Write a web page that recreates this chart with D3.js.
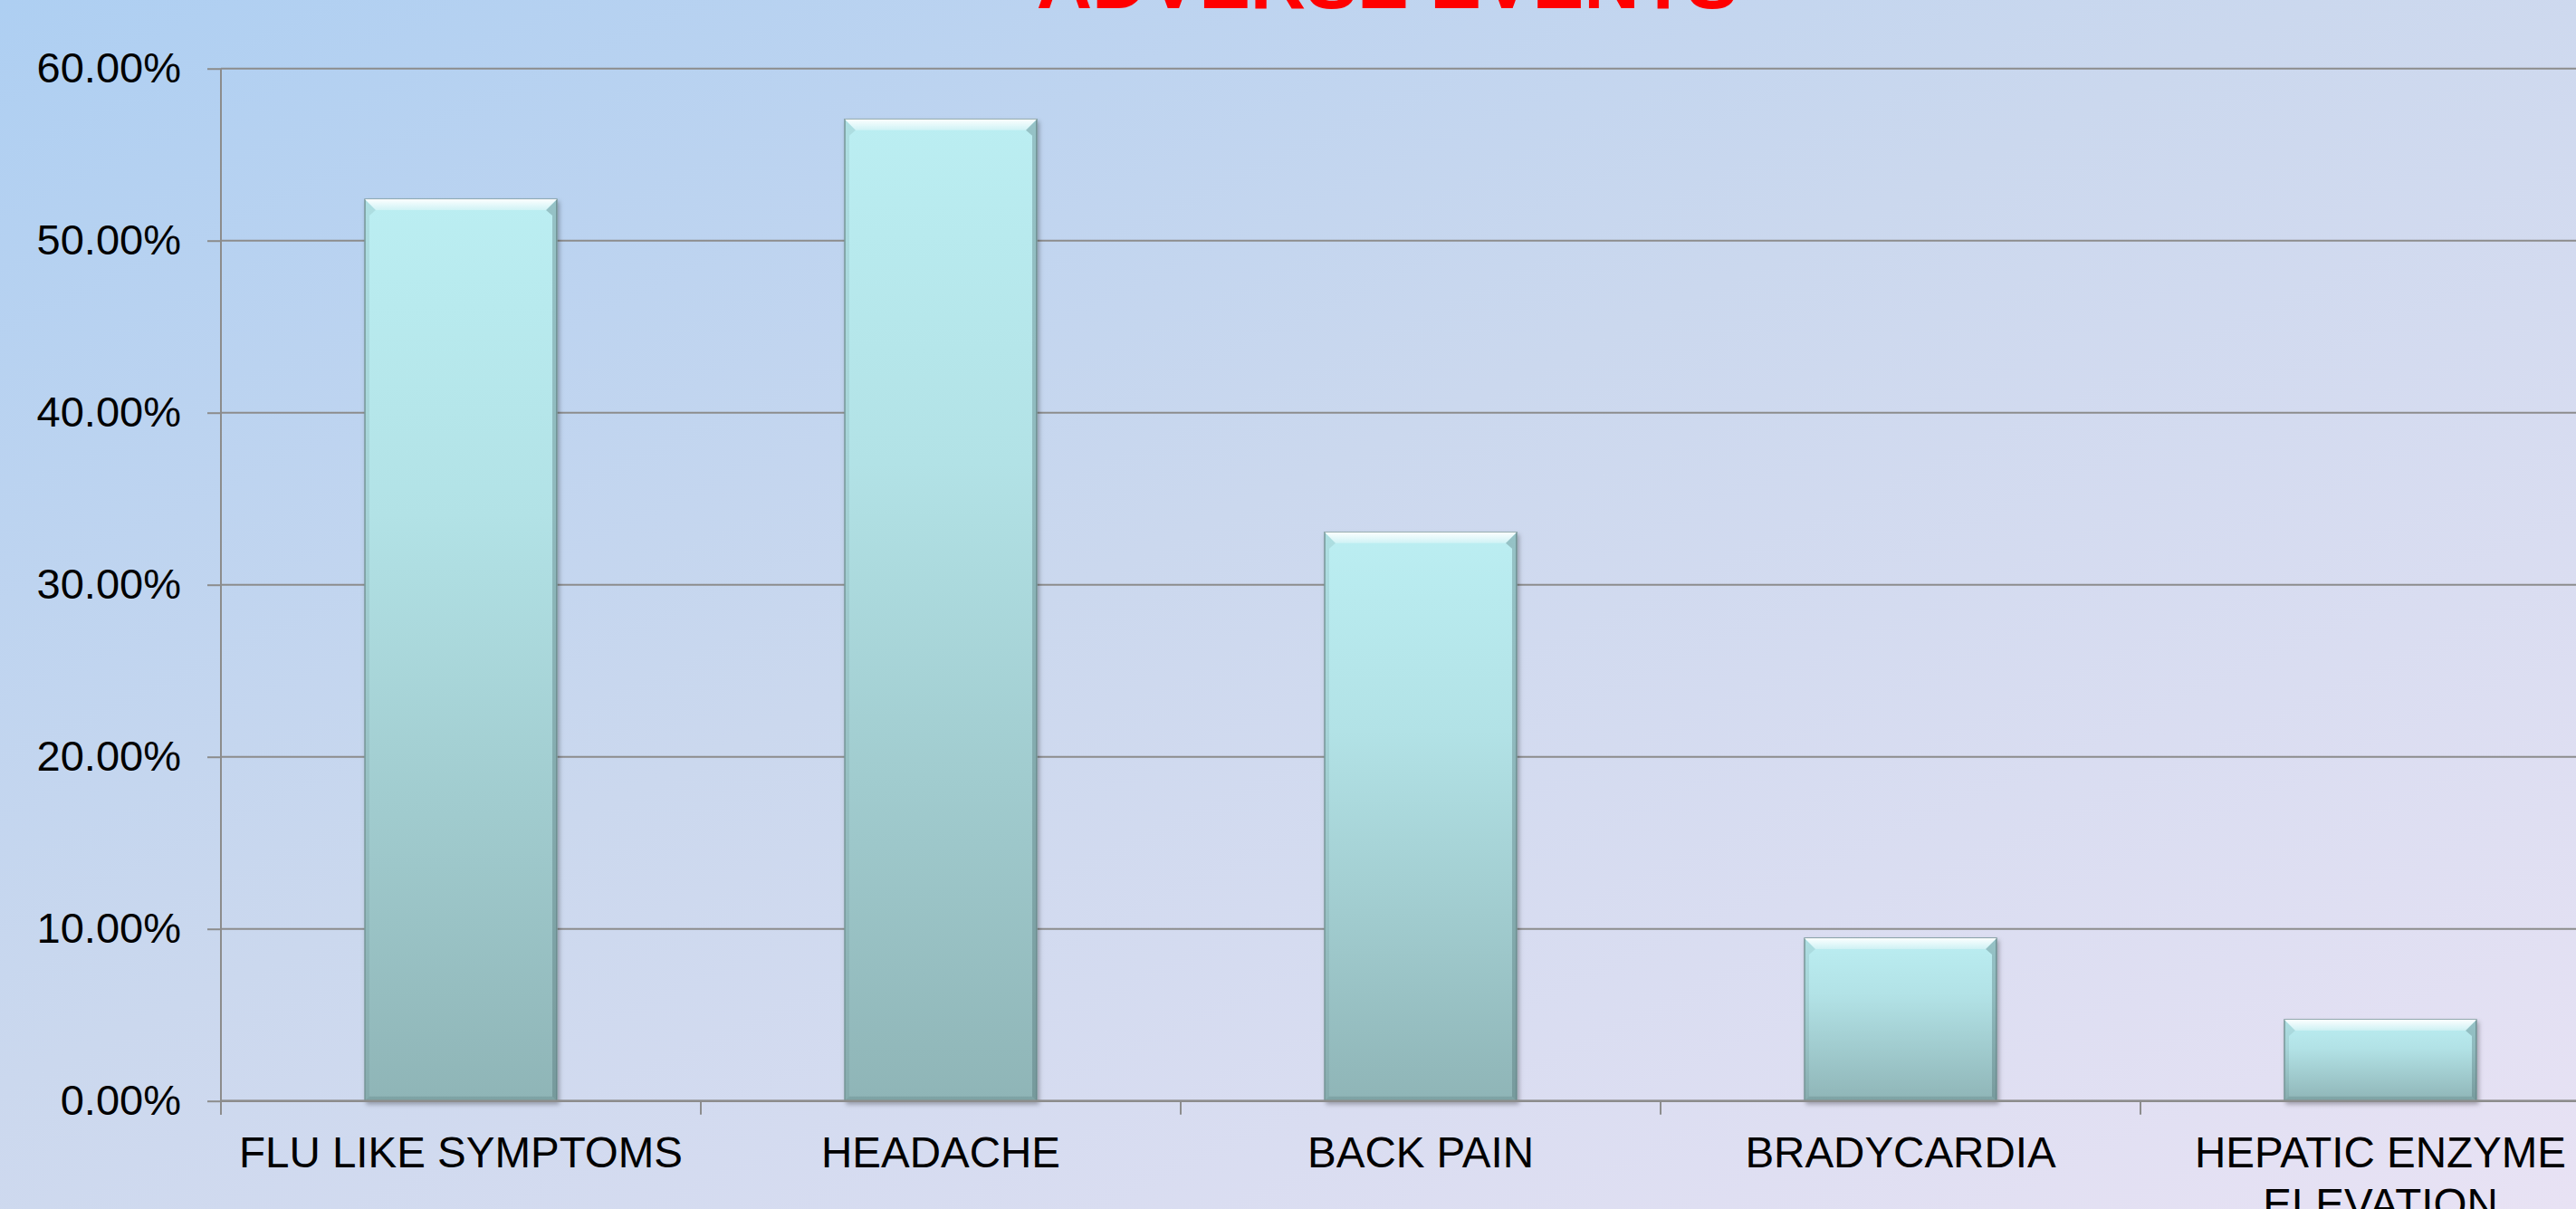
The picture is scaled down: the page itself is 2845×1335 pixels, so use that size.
<!DOCTYPE html>
<html>
<head>
<meta charset="utf-8">
<script src="https://cdn.jsdelivr.net/npm/d3@7"></script>
<style>
    body { margin: 0; overflow: hidden; }
    text { font-family: "Liberation Sans", Arial, sans-serif; }
</style>
</head>
<body>
<script>
//chart data
var categories = ["FLU LIKE SYMPTOMS", "HEADACHE", "BACK PAIN", "BRADYCARDIA", "HEPATIC ENZYME ELEVATION"];
var values = [0.524, 0.5705, 0.3305, 0.0946, 0.0472];
var yTicks = [0, 0.1, 0.2, 0.3, 0.4, 0.5, 0.6];
var titleText = "ADVERSE EVENTS";

window.onload = function(){

    var w = 2845, h = 1335;

    var svg = d3.select("body")
        .append("svg")
        .attr("width", w)
        .attr("height", h);

    var defs = svg.append("defs");

    //slide background gradient
    var bg = defs.append("linearGradient")
        .attr("id", "bg")
        .attr("x1", "0%").attr("y1", "0%")
        .attr("x2", "100%").attr("y2", "100%");
    bg.append("stop").attr("offset", "0%").attr("stop-color", "#aecff2");
    bg.append("stop").attr("offset", "45%").attr("stop-color", "#cbd8ee");
    bg.append("stop").attr("offset", "100%").attr("stop-color", "#e8e2f4");

    //bar fill gradient
    var barGrad = defs.append("linearGradient")
        .attr("id", "barGrad")
        .attr("x1", "0").attr("y1", "0")
        .attr("x2", "0").attr("y2", "1");
    barGrad.append("stop").attr("offset", "0%").attr("stop-color", "#bbeef2");
    barGrad.append("stop").attr("offset", "35%").attr("stop-color", "#b2e2e6");
    barGrad.append("stop").attr("offset", "100%").attr("stop-color", "#8fb5b7");

    //top bevel highlight
    var topGrad = defs.append("linearGradient")
        .attr("id", "topGrad")
        .attr("x1", "0").attr("y1", "0")
        .attr("x2", "0").attr("y2", "1");
    topGrad.append("stop").attr("offset", "0%").attr("stop-color", "#ffffff").attr("stop-opacity", 0.95);
    topGrad.append("stop").attr("offset", "100%").attr("stop-color", "#ffffff").attr("stop-opacity", 0.3);

    var shadow = defs.append("filter")
        .attr("id", "shadow")
        .attr("x", "-10%").attr("y", "-10%")
        .attr("width", "130%").attr("height", "130%");
    shadow.append("feDropShadow")
        .attr("dx", 2).attr("dy", 3)
        .attr("stdDeviation", 2.5)
        .attr("flood-color", "#000")
        .attr("flood-opacity", 0.3);

    svg.append("rect")
        .attr("width", w)
        .attr("height", h)
        .style("fill", "url(#bg)");

    //scales
    var x = d3.scaleBand()
        .domain(categories)
        .range([244, 2894])
        .paddingInner(0.6)
        .paddingOuter(0.3);

    var y = d3.scaleLinear()
        .domain([0, 0.6])
        .range([1215.7, 75.7]);

    var fmt = d3.format(".2%");

    //gridlines
    svg.selectAll(".grid")
        .data(yTicks)
        .enter()
        .append("line")
        .attr("class", "grid")
        .attr("x1", 244)
        .attr("x2", 2894)
        .attr("y1", function(d){ return y(d); })
        .attr("y2", function(d){ return y(d); })
        .style("stroke", "#8c8c8c")
        .style("stroke-width", 2);

    //y axis
    var yAxis = d3.axisLeft(y)
        .tickValues(yTicks)
        .tickFormat(fmt)
        .tickSize(15)
        .tickPadding(29);

    var yG = svg.append("g")
        .attr("transform", "translate(244,0)")
        .call(yAxis);
    yG.select(".domain").remove();
    yG.append("line")
        .attr("x1", 0).attr("x2", 0)
        .attr("y1", y(0.6)).attr("y2", y(0) + 15)
        .style("stroke", "#8c8c8c")
        .style("stroke-width", 2);
    yG.selectAll(".tick line").style("stroke", "#8c8c8c").style("stroke-width", 2);
    yG.selectAll(".tick text")
        .style("font-size", "47px")
        .style("fill", "#000")
        .style("font-family", "'Liberation Sans', Arial, sans-serif");

    //category tick marks between bands
    var gap = (x.step() - x.bandwidth()) / 2;
    var bounds = categories.map(function(c){ return x(c) - gap; });
    bounds.push(x(categories[categories.length - 1]) + x.bandwidth() + gap);
    svg.selectAll(".xtick")
        .data(bounds)
        .enter()
        .append("line")
        .attr("class", "xtick")
        .attr("x1", function(d){ return d; })
        .attr("x2", function(d){ return d; })
        .attr("y1", y(0))
        .attr("y2", y(0) + 15)
        .style("stroke", "#8c8c8c")
        .style("stroke-width", 2);

    //bars
    var bars = svg.selectAll(".bar")
        .data(values)
        .enter()
        .append("g")
        .attr("class", "bar")
        .attr("filter", "url(#shadow)");

    bars.append("rect")
        .attr("x", function(d, i){ return x(categories[i]); })
        .attr("y", function(d){ return y(d); })
        .attr("width", x.bandwidth())
        .attr("height", function(d){ return y(0) - y(d); })
        .style("fill", "url(#barGrad)")
        .style("stroke", "#7a999b")
        .style("stroke-width", 1.5);

    //bevel edges: wide top highlight, thin sides and bottom
    var b = 12, s = 5;
    function bevel(d, i, side){
        var x0 = x(categories[i]), x1 = x0 + x.bandwidth();
        var y0 = y(d), y1 = y(0);
        if (side === "top") return [[x0, y0], [x1, y0], [x1 - b, y0 + b], [x0 + b, y0 + b]];
        if (side === "left") return [[x0, y0], [x0 + b, y0 + b], [x0 + s, y0 + b + 6], [x0 + s, y1 - s], [x0, y1]];
        if (side === "right") return [[x1, y0], [x1 - b, y0 + b], [x1 - s, y0 + b + 6], [x1 - s, y1 - s], [x1, y1]];
        return [[x0, y1], [x0 + s, y1 - s], [x1 - s, y1 - s], [x1, y1]];
    }
    var sides = [
        { side: "left", fill: "#4a6a6c", op: 0.12 },
        { side: "right", fill: "#3e5e60", op: 0.3 },
        { side: "bottom", fill: "#3e5e60", op: 0.2 },
        { side: "top", fill: "url(#topGrad)", op: 1 }
    ];
    sides.forEach(function(sd){
        bars.append("polygon")
            .attr("points", function(d, i){
                return bevel(d, i, sd.side).map(function(p){ return p.join(","); }).join(" ");
            })
            .style("fill", sd.fill)
            .style("fill-opacity", sd.op);
    });

    //axis line along zero
    svg.append("line")
        .attr("x1", 244).attr("x2", 2894)
        .attr("y1", y(0)).attr("y2", y(0))
        .style("stroke", "#8c8c8c")
        .style("stroke-width", 2.5);

    //category labels, wrapped to band step
    var labels = svg.selectAll(".xlabel")
        .data(categories)
        .enter()
        .append("text")
        .attr("class", "xlabel")
        .attr("text-anchor", "middle")
        .attr("y", y(0) + 73)
        .style("font-size", "47.5px")
        .style("fill", "#000");

    labels.each(function(c){
        var t = d3.select(this);
        var cx = x(c) + x.bandwidth() / 2;
        var words = c.split(" ");
        var line = [];
        var tspan = t.append("tspan").attr("x", cx).attr("dy", 0);
        words.forEach(function(wd){
            line.push(wd);
            tspan.text(line.join(" "));
            if (tspan.node().getComputedTextLength() > x.step() - 20 && line.length > 1) {
                line.pop();
                tspan.text(line.join(" "));
                line = [wd];
                tspan = t.append("tspan").attr("x", cx).attr("dy", "1.2em").text(wd);
            }
        });
    });

    //title
    svg.append("text")
        .attr("x", 1532)
        .attr("y", 9)
        .attr("text-anchor", "middle")
        .style("font-size", "85px")
        .style("font-weight", "bold")
        .style("fill", "#ff0000")
        .text(titleText);
};
</script>
</body>
</html>
